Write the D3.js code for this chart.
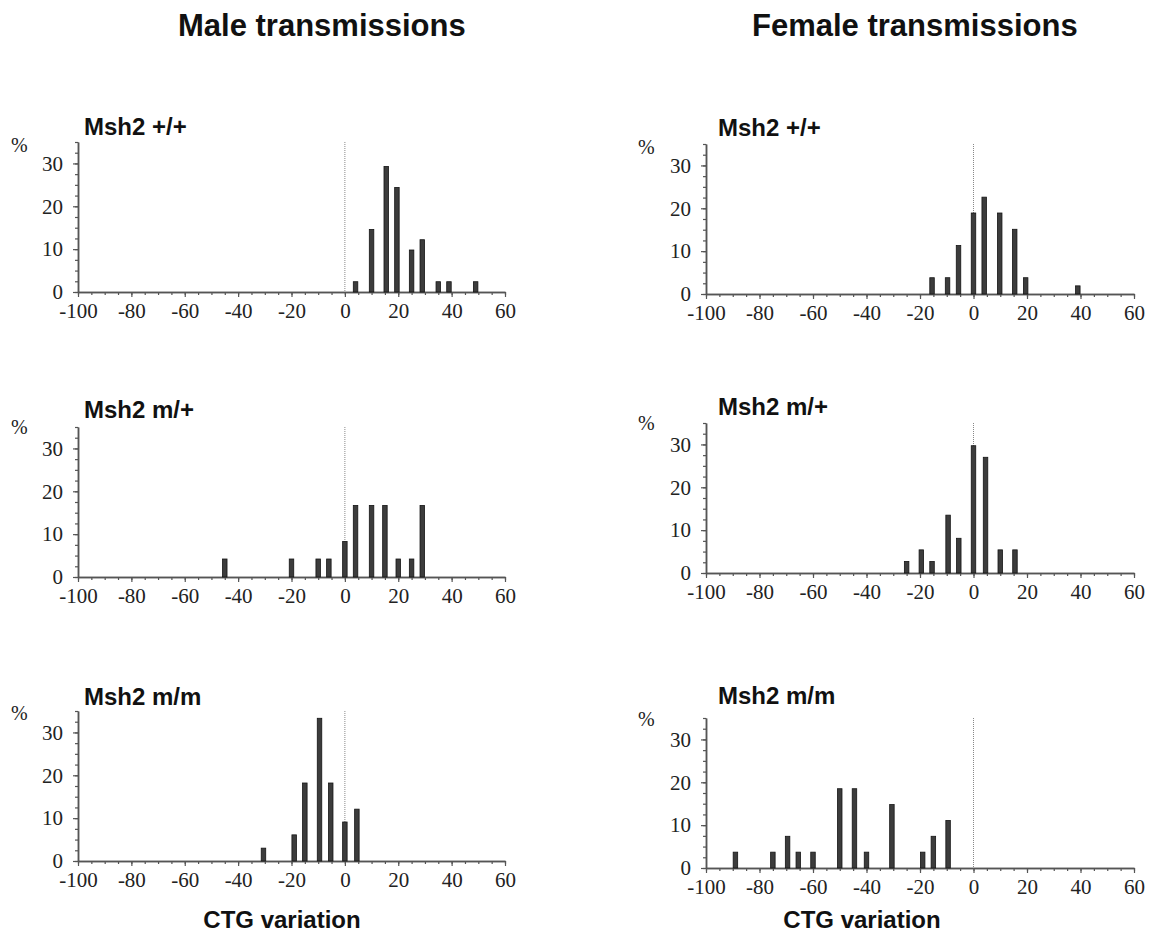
<!DOCTYPE html>
<html>
<head>
<meta charset="utf-8">
<script src="https://cdn.jsdelivr.net/npm/d3@7/dist/d3.min.js"></script>
<style>
  body { margin: 0; background: #fff; }
  .axis .domain { stroke: #555; stroke-width: 1.5; }
  .axis line { stroke: #555; stroke-width: 1.2; }
  .axis text { font-family: "Liberation Serif", "Times New Roman", serif; font-size: 21px; fill: #222; }
  .ttl { font-family: "Liberation Sans", Arial, sans-serif; font-weight: bold; fill: #111; }
  .pct { font-family: "Liberation Serif", serif; font-size: 20px; fill: #222; }
</style>
</head>
<body>
<script>
// CTG variation (bar centres) and % of transmissions
const maleWtX = [4, 10, 15.5, 19.5, 25, 29, 35, 39, 49];
const maleWtPct = [2.4, 14.6, 29.3, 24.4, 9.8, 12.2, 2.4, 2.4, 2.4];

const femaleWtX = [-15.5, -9.7, -5.6, 0, 4, 9.8, 15.4, 19.5, 39];
const femaleWtPct = [3.8, 3.8, 11.3, 18.9, 22.6, 18.9, 15.1, 3.8, 1.9];

const maleHetX = [-45, -20, -10, -6, 0, 4, 10, 15, 20, 25, 29];
const maleHetPct = [4.2, 4.2, 4.2, 4.2, 8.3, 16.7, 16.7, 16.7, 4.2, 4.2, 16.7];

const femaleHetX = [-25, -19.5, -15.5, -9.5, -5.5, 0, 4.5, 10, 15.5];
const femaleHetPct = [2.7, 5.4, 2.7, 13.5, 8.1, 29.7, 27.0, 5.4, 5.4];

const maleHomX = [-30.5, -19, -15, -9.5, -5.3, 0, 4.5];
const maleHomPct = [3.0, 6.1, 18.2, 33.3, 18.2, 9.1, 12.1];

const femaleHomX = [-89, -75, -69.5, -65.5, -60, -50, -44.5, -40, -30.5, -19, -15, -9.5];
const femaleHomPct = [3.7, 3.7, 7.4, 3.7, 3.7, 18.5, 18.5, 3.7, 14.8, 3.7, 7.4, 11.1];

const xTicks = d3.range(-100, 61, 20);
const yTicks = [0, 10, 20, 30];
const xDomain = [-100, 60];
const yDomain = [0, 35];

const width = 1151, height = 939;

const svg = d3.select("body").append("svg")
  .attr("width", width)
  .attr("height", height);

svg.append("rect").attr("width", width).attr("height", height).attr("fill", "#fff");

// column titles
svg.append("text").attr("class", "ttl").attr("x", 178).attr("y", 36)
  .style("font-size", "31px").text("Male transmissions");
svg.append("text").attr("class", "ttl").attr("x", 752).attr("y", 36)
  .style("font-size", "31px").text("Female transmissions");

// x axis labels
svg.append("text").attr("class", "ttl").attr("x", 282).attr("y", 928)
  .attr("text-anchor", "middle").style("font-size", "24px").text("CTG variation");
svg.append("text").attr("class", "ttl").attr("x", 862).attr("y", 928)
  .attr("text-anchor", "middle").style("font-size", "24px").text("CTG variation");

const panels = [
  { title: "Msh2 +/+", x0: 78, x1: 505, yb: 292, tx: 84, ty: 135, px: 11, py: 152, xs: maleWtX, vs: maleWtPct },
  { title: "Msh2 m/+", x0: 78, x1: 505, yb: 577, tx: 84, ty: 418, px: 11, py: 434, xs: maleHetX, vs: maleHetPct },
  { title: "Msh2 m/m", x0: 78, x1: 505, yb: 861, tx: 84, ty: 705, px: 11, py: 720, xs: maleHomX, vs: maleHomPct },
  { title: "Msh2 +/+", x0: 706, x1: 1134, yb: 294, tx: 718, ty: 136, px: 638, py: 154, xs: femaleWtX, vs: femaleWtPct },
  { title: "Msh2 m/+", x0: 706, x1: 1134, yb: 573, tx: 718, ty: 415, px: 638, py: 430, xs: femaleHetX, vs: femaleHetPct },
  { title: "Msh2 m/m", x0: 706, x1: 1134, yb: 868, tx: 718, ty: 704, px: 638, py: 726, xs: femaleHomX, vs: femaleHomPct }
];

panels.forEach(p => {
  const x = d3.scaleLinear().domain(xDomain).range([p.x0, p.x1]);
  const y = d3.scaleLinear().domain(yDomain).range([p.yb, p.yb - 150]);
  const g = svg.append("g");

  g.append("text").attr("class", "ttl").attr("x", p.tx).attr("y", p.ty)
    .style("font-size", "24px").text(p.title);
  g.append("text").attr("class", "pct").attr("x", p.px).attr("y", p.py).text("%");

  // minor ticks first, then the labelled ones
  g.append("g").attr("class", "axis")
    .attr("transform", "translate(" + p.x0 + ",0)")
    .call(d3.axisLeft(y).tickValues(d3.range(0, 35.01, 2.5)).tickSize(3).tickSizeOuter(0).tickFormat(""));
  g.append("g").attr("class", "axis")
    .attr("transform", "translate(" + p.x0 + ",0)")
    .call(d3.axisLeft(y).tickValues(yTicks).tickSize(5).tickSizeOuter(0).tickPadding(10).tickFormat(d => String(d)));

  g.append("g").attr("class", "axis")
    .attr("transform", "translate(0," + p.yb + ")")
    .call(d3.axisBottom(x).tickValues(d3.range(-100, 60.01, 5)).tickSize(3).tickSizeOuter(0).tickFormat(""));
  g.append("g").attr("class", "axis")
    .attr("transform", "translate(0," + p.yb + ")")
    .call(d3.axisBottom(x).tickValues(xTicks).tickSize(5).tickSizeOuter(0).tickPadding(6).tickFormat(d => String(d)));

  // dotted zero line
  g.append("line")
    .attr("x1", x(0)).attr("x2", x(0))
    .attr("y1", y(35)).attr("y2", y(0))
    .attr("stroke", "#888").attr("stroke-width", 1)
    .attr("stroke-dasharray", "1,1");

  g.selectAll("rect.bar")
    .data(p.xs.map((v, i) => ({ x: v, v: p.vs[i] })))
    .enter().append("rect")
    .attr("class", "bar")
    .attr("x", d => x(d.x) - 2.25)
    .attr("width", 4.5)
    .attr("y", d => y(d.v))
    .attr("height", d => y(0) - y(d.v))
    .attr("fill", "#3c3c3c")
    .attr("stroke", "#151515")
    .attr("stroke-width", 0.8);
});
</script>
</body>
</html>
